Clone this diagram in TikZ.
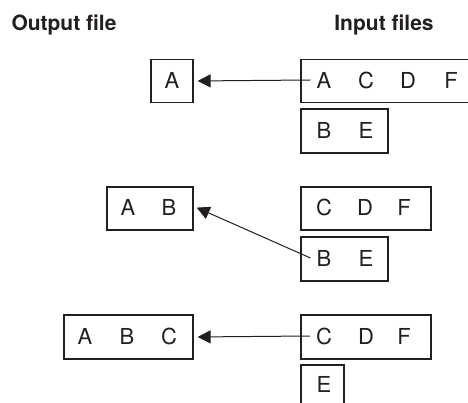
\documentclass[tikz,border=0pt]{standalone}
\usepackage{fontspec}
\setmainfont{TeX Gyre Heros}
\usetikzlibrary{arrows.meta}
\definecolor{ink}{HTML}{231F20}
\tikzset{
  filebox/.style={draw=ink, line width=1.3pt, rectangle, inner sep=0pt},
  letter/.style={inner sep=0pt, inner xsep=6pt, text=ink, font=\fontsize{22}{26}\selectfont},
  header/.style={inner sep=0pt, text=ink, font=\fontsize{21}{25}\selectfont\bfseries},
  mergearrow/.style={draw=ink, line width=1pt, -{Triangle[length=13pt,width=13pt]}, shorten >=4pt},
}
\begin{document}
\begin{tikzpicture}[x=1pt,y=-1pt]
\useasboundingbox (0,0) rectangle (468,403);
\begin{scope}
\clip (0,0) rectangle (468,403);
% headers
\node[header] (hout) at (64,25) {Output file};
\node[header] (hin) at (384,25) {Input files};
% ---------- step 1 ----------
\node[filebox, minimum width=42pt, minimum height=43pt] (o1) at (172,81) {};
\node[filebox, minimum width=220pt, minimum height=43pt] (p1) at (411,81) {};
\node[filebox, minimum width=87pt, minimum height=44pt] (q1) at (344.5,131) {};
\node[letter] (o1a) at (172,80) {A};
\node[letter] (p1a) at (324,80) {A};
\node[letter] (p1c) at (366,80) {C};
\node[letter] (p1d) at (408,80) {D};
\node[letter] (p1f) at (451,80) {F};
\node[letter] (q1b) at (324,130) {B};
\node[letter] (q1e) at (366,130) {E};
\draw[mergearrow] (p1a.west) -- (o1.east);
% ---------- step 2 ----------
\node[filebox, minimum width=86pt, minimum height=43pt] (o2) at (150,208.5) {};
\node[filebox, minimum width=130pt, minimum height=43pt] (p2) at (366,208.5) {};
\node[filebox, minimum width=87pt, minimum height=44pt] (q2) at (344.5,259) {};
\node[letter] (o2a) at (128,207.5) {A};
\node[letter] (o2b) at (169,207.5) {B};
\node[letter] (p2c) at (324,207.5) {C};
\node[letter] (p2d) at (365,207.5) {D};
\node[letter] (p2f) at (404,207.5) {F};
\node[letter] (q2b) at (324,258) {B};
\node[letter] (q2e) at (366,258) {E};
\coordinate (o2tip) at (193,206);
\draw[mergearrow] (q2b.west) -- (o2tip);
% ---------- step 3 ----------
\node[filebox, minimum width=129pt, minimum height=44pt] (o3) at (128.5,337) {};
\node[filebox, minimum width=130pt, minimum height=44pt] (p3) at (366,337) {};
\node[filebox, minimum width=43pt, minimum height=50pt] (q3) at (322.5,390) {};
\node[letter] (o3a) at (85,336) {A};
\node[letter] (o3b) at (127,336) {B};
\node[letter] (o3c) at (169,336) {C};
\node[letter] (p3c) at (324,336) {C};
\node[letter] (p3d) at (366,336) {D};
\node[letter] (p3f) at (404,336) {F};
\node[letter] (q3e) at (324,384) {E};
\draw[mergearrow] (p3c.west) -- (o3.east);
\end{scope}
\end{tikzpicture}
\end{document}
